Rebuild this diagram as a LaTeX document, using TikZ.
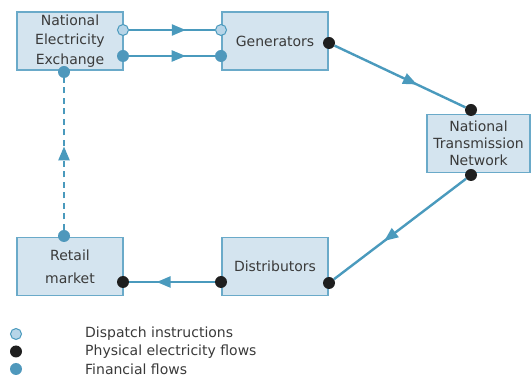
\documentclass[tikz,border=0pt]{standalone}
\usepackage{fontspec}
\setmainfont{DejaVu Sans}
\usetikzlibrary{arrows.meta,decorations.markings}
\definecolor{boxfill}{HTML}{D4E4EF}
\definecolor{boxline}{HTML}{6AAAC9}
\definecolor{flow}{HTML}{4A9ABD}
\definecolor{dispfill}{HTML}{B7D5E8}
\definecolor{finfill}{HTML}{4F98BC}
\definecolor{physfill}{HTML}{1F1F1F}
\definecolor{txt}{HTML}{3A3A3A}
\begin{document}
\begin{tikzpicture}[x=1pt,y=-1pt,
    box/.style={draw=boxline,fill=boxfill,line width=1.2pt,minimum width=106pt,
      minimum height=58pt,inner sep=2pt,align=center,text=txt,font=\fontsize{14}{17}\selectfont},
    dot/.style={circle,inner sep=0pt,minimum size=12pt},
    disp/.style={dot,draw=flow,fill=dispfill,line width=1pt,minimum size=11pt},
    fin/.style={dot,fill=finfill},
    phys/.style={dot,fill=physfill},
    flowline/.style={color=flow,line width=2.4pt},
    midarrow/.style={postaction={decorate},decoration={markings,
      mark=at position #1 with {\arrow{Triangle[length=14pt,width=11pt]}}}},
    legend/.style={anchor=west,text=txt,font=\fontsize{14}{17}\selectfont,inner sep=0pt}]
  \useasboundingbox (0,0) rectangle (531,379);
  % boxes
  \node[box,font=\fontsize{14}{19.5}\selectfont] (nee) at (70,41) {National\\Electricity\\Exchange};
  \node[box] (gen) at (275,41) {Generators};
  \node[box,minimum width=103pt] (ntn) at (478.5,143.5) {National\\Transmission\\Network};
  \node[box,font=\fontsize{14}{23}\selectfont] (ret) at (70,266.5) {Retail\\market};
  \node[box] (dist) at (275,266.5) {Distributors};
  % connection points
  \node[disp] (nee-d) at (123,30) {};
  \node[disp] (gen-d) at (221,30) {};
  \node[fin] (nee-f) at (123,56) {};
  \node[fin] (gen-f) at (221,56) {};
  \node[fin] (nee-b) at (64,72) {};
  \node[fin] (ret-t) at (64,236) {};
  \node[phys] (gen-p) at (329,43) {};
  \node[phys] (ntn-t) at (471,110) {};
  \node[phys] (ntn-b) at (471,175) {};
  \node[phys] (dist-r) at (329,283) {};
  \node[phys] (dist-l) at (221,282) {};
  \node[phys] (ret-r) at (123,282) {};
  % flows
  \draw[flowline,midarrow=0.66] (nee-d) -- (gen-d);
  \draw[flowline,midarrow=0.66] (nee-f) -- (gen-f);
  \draw[flowline,midarrow=0.63] (gen-p) -- (ntn-t);
  \draw[flowline,midarrow=0.62] (ntn-b) -- (dist-r);
  \draw[flowline,midarrow=0.68] (dist-l) -- (ret-r);
  \draw[flowline,dash pattern=on 6pt off 4.5pt,midarrow=0.55] (ret-t) -- (nee-b);
  % legend
  \node[disp] (k1) at (16,334) {};
  \node[phys] (k2) at (16,351.5) {};
  \node[fin] (k3) at (16,369) {};
  \node[legend] (t1) at (85,334) {Dispatch instructions};
  \node[legend] (t2) at (85,351.5) {Physical electricity flows};
  \node[legend] (t3) at (85,369) {Financial flows};
\end{tikzpicture}
\end{document}
